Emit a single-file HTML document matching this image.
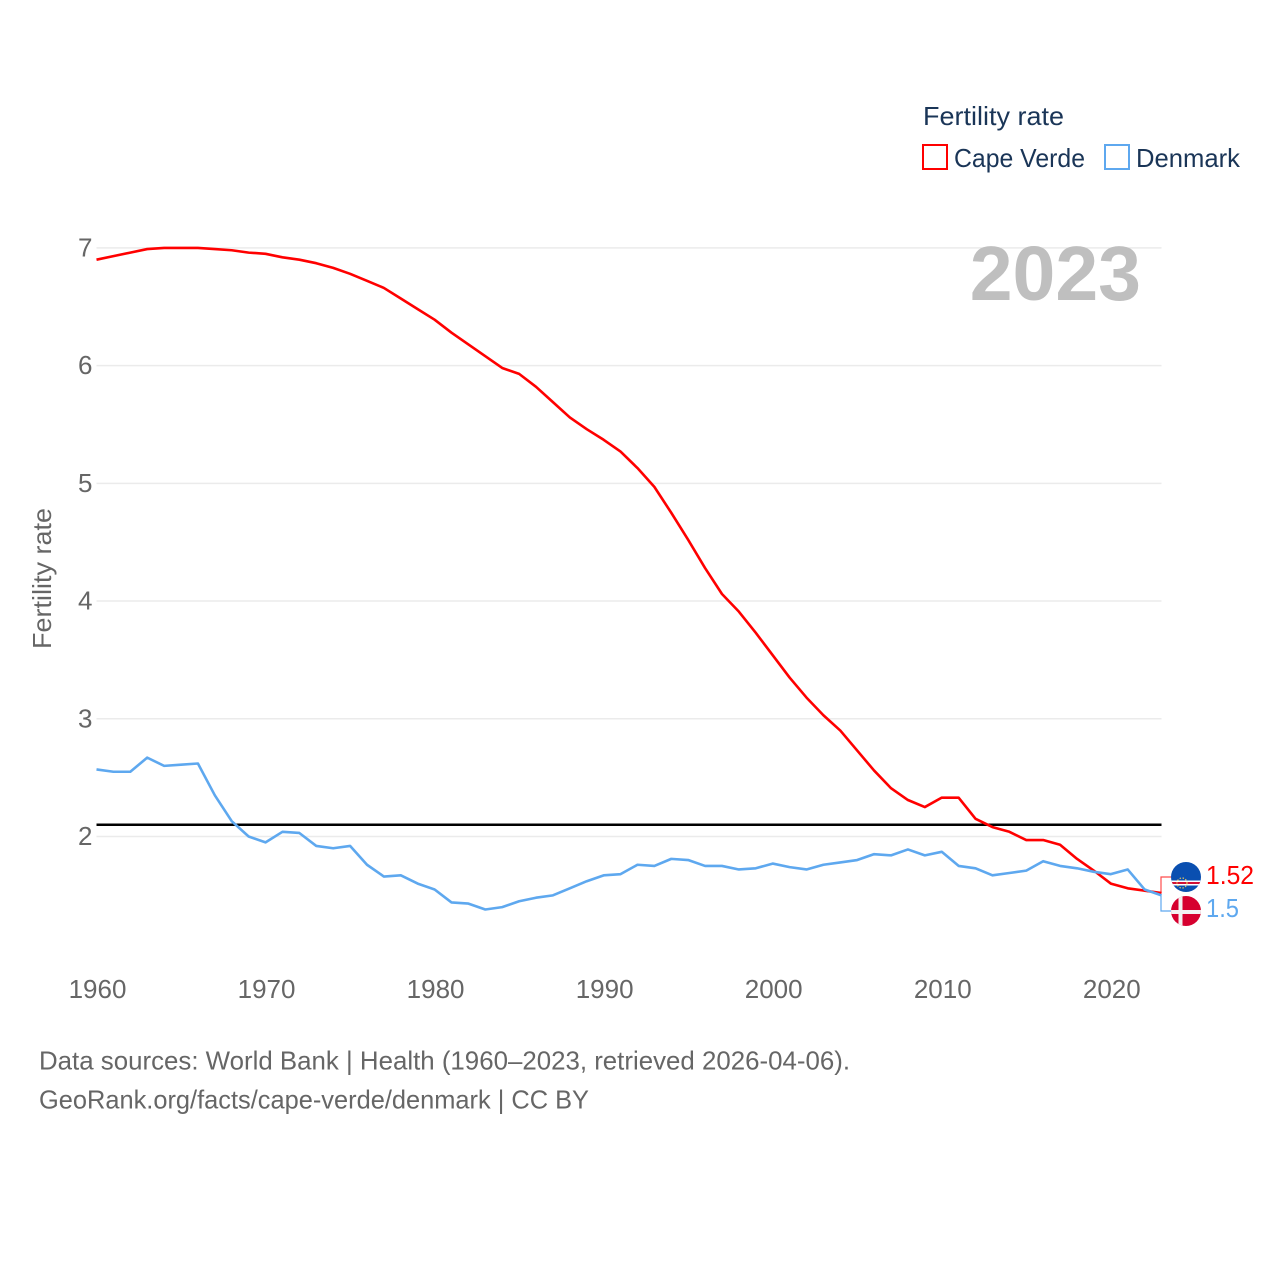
<!DOCTYPE html>
<html lang="en">
<head>
<meta charset="utf-8">
<title>Fertility rate: Cape Verde and Denmark</title>
<style>
html,body{margin:0;padding:0;background:#fff;}
svg{display:block;}
text{font-family:"Liberation Sans",sans-serif;}
</style>
</head>
<body>
<svg id="chart" xmlns="http://www.w3.org/2000/svg" width="1280" height="1280" viewBox="0 0 1280 1280">
  <rect x="0" y="0" width="1280" height="1280" fill="#ffffff"/>
  <g id="grid"></g>
  <text x="1141" y="300" text-anchor="end" font-size="77" font-weight="700" fill="#bfbfbf">2023</text>
  <g id="yticks"></g>
  <g id="xticks"></g>
  <text transform="translate(51,649) rotate(-90)" font-size="26" fill="#666666" textLength="141" lengthAdjust="spacingAndGlyphs">Fertility rate</text>
  <g id="series"></g>
  <g id="connectors"></g>

  <defs>
    <clipPath id="clip-cv"><circle cx="1186" cy="877" r="15"/></clipPath>
    <clipPath id="clip-dk"><circle cx="1186" cy="911" r="15"/></clipPath>
  </defs>
  <g clip-path="url(#clip-cv)">
    <rect x="1171" y="862" width="30" height="30" fill="#0a4fb0"/>
    <rect x="1171" y="880.5" width="30" height="5" fill="#ffffff"/>
    <rect x="1171" y="882" width="30" height="2" fill="#d21034"/>
    <circle cx="1182" cy="883" r="5" fill="none" stroke="#e8c860" stroke-width="1.2" stroke-dasharray="1.4 1.6"/>
  </g>
  <g clip-path="url(#clip-dk)">
    <rect x="1171" y="896" width="30" height="30" fill="#d6002f"/>
    <rect x="1178.5" y="896" width="4" height="30" fill="#f2f2f2"/>
    <rect x="1171" y="910" width="30" height="4" fill="#f2f2f2"/>
  </g>
  <text x="1206" y="884" font-size="26" fill="#ff0000" textLength="48" lengthAdjust="spacingAndGlyphs">1.52</text>
  <text x="1206" y="917" font-size="26" fill="#5ea8ef" textLength="33" lengthAdjust="spacingAndGlyphs">1.5</text>

  <g>
    <text x="923" y="125" font-size="26" fill="#1a3557" textLength="141" lengthAdjust="spacingAndGlyphs">Fertility rate</text>
    <rect x="923" y="145" width="24" height="24" fill="none" stroke="#ff0000" stroke-width="2"/>
    <text x="954" y="167" font-size="26" fill="#1a3557" textLength="131" lengthAdjust="spacingAndGlyphs">Cape Verde</text>
    <rect x="1105" y="145" width="24" height="24" fill="none" stroke="#5ea8ef" stroke-width="2"/>
    <text x="1136" y="167" font-size="26" fill="#1a3557" textLength="104" lengthAdjust="spacingAndGlyphs">Denmark</text>
  </g>

  <text x="39" y="1069.5" font-size="26" fill="#666666" textLength="811" lengthAdjust="spacingAndGlyphs">Data sources: World Bank | Health (1960–2023, retrieved 2026-04-06).</text>
  <text x="39" y="1108.5" font-size="26" fill="#666666" textLength="550" lengthAdjust="spacingAndGlyphs">GeoRank.org/facts/cape-verde/denmark | CC BY</text>
</svg>
<script>
const startYear = 1960;
const capeVerdeValues = [6.90,6.93,6.96,6.99,7.00,7.00,7.00,6.99,6.98,6.96,6.95,6.92,6.90,6.87,6.83,6.78,6.72,6.66,6.57,6.48,6.39,6.28,6.18,6.08,5.98,5.93,5.82,5.69,5.56,5.46,5.37,5.27,5.13,4.97,4.75,4.52,4.28,4.06,3.91,3.73,3.54,3.35,3.18,3.03,2.90,2.73,2.56,2.41,2.31,2.25,2.33,2.33,2.15,2.08,2.04,1.97,1.97,1.93,1.81,1.71,1.60,1.56,1.54,1.52];
const denmarkValues = [2.57,2.55,2.55,2.67,2.60,2.61,2.62,2.35,2.13,2.00,1.95,2.04,2.03,1.92,1.90,1.92,1.76,1.66,1.67,1.60,1.55,1.44,1.43,1.38,1.40,1.45,1.48,1.50,1.56,1.62,1.67,1.68,1.76,1.75,1.81,1.80,1.75,1.75,1.72,1.73,1.77,1.74,1.72,1.76,1.78,1.80,1.85,1.84,1.89,1.84,1.87,1.75,1.73,1.67,1.69,1.71,1.79,1.75,1.73,1.70,1.68,1.72,1.55,1.50];
const yTickValues = [2,3,4,5,6,7];
const xTickYears = [1960,1970,1980,1990,2000,2010,2020];
const referenceValue = 2.1;

const NS = 'http://www.w3.org/2000/svg';
function xScale(year){ return 96.5 + (year - 1960) * (1161.5 - 96.5) / 63; }
function yScale(v){ return 836.5 - (v - 2) * 117.72; }
function make(tag, attrs, parent){
  const el = document.createElementNS(NS, tag);
  for (const k in attrs) el.setAttribute(k, attrs[k]);
  parent.appendChild(el);
  return el;
}
const grid = document.getElementById('grid');
const yticks = document.getElementById('yticks');
const xticks = document.getElementById('xticks');
const series = document.getElementById('series');
const connectors = document.getElementById('connectors');

yTickValues.forEach(function(v){
  const line = make('line', {x1:96.5, x2:1161.5, y1:yScale(v), y2:yScale(v), stroke:'#ebebeb', 'stroke-width':1.5}, grid);
  
  
  const t = make('text', {x:92.5, y:yScale(v) + 8.5, 'text-anchor':'end', 'font-size':26, fill:'#666666'}, yticks);
  
  
  t.textContent = String(v);
});
xTickYears.forEach(function(y){
  const t = make('text', {x:xScale(y) + 1, y:998, 'text-anchor':'middle', 'font-size':26, fill:'#666666'}, xticks);
  
  
  t.textContent = String(y);
});

function pathFor(values){
  return values.map(function(v, i){
    return (i ? 'L' : 'M') + xScale(startYear + i).toFixed(2) + ' ' + yScale(v).toFixed(2);
  }).join(' ');
}
const refLine = make('line', {x1:96.5, x2:1161.5, y1:yScale(referenceValue), y2:yScale(referenceValue), stroke:'#000000', 'stroke-width':2.5}, series);



const cvLine = make('path', {d:pathFor(capeVerdeValues), fill:'none', stroke:'#ff0000', 'stroke-width':2.6, 'stroke-linejoin':'round'}, series);



const dkLine = make('path', {d:pathFor(denmarkValues), fill:'none', stroke:'#5ea8ef', 'stroke-width':2.6, 'stroke-linejoin':'round'}, series);



const lastYear = startYear + capeVerdeValues.length - 1;
const endX = xScale(lastYear) - 0.5;
const cvEndY = yScale(capeVerdeValues[capeVerdeValues.length - 1]);
const dkEndY = yScale(denmarkValues[denmarkValues.length - 1]);
const cvConn = make('path', {d:'M' + endX + ' ' + cvEndY + ' V877 H1171', fill:'none', stroke:'#ff0000', 'stroke-width':1.2, opacity:0.7}, connectors);


const dkConn = make('path', {d:'M' + endX + ' ' + dkEndY + ' V911 H1171', fill:'none', stroke:'#5ea8ef', 'stroke-width':1.2}, connectors);


</script>
</body>
</html>
